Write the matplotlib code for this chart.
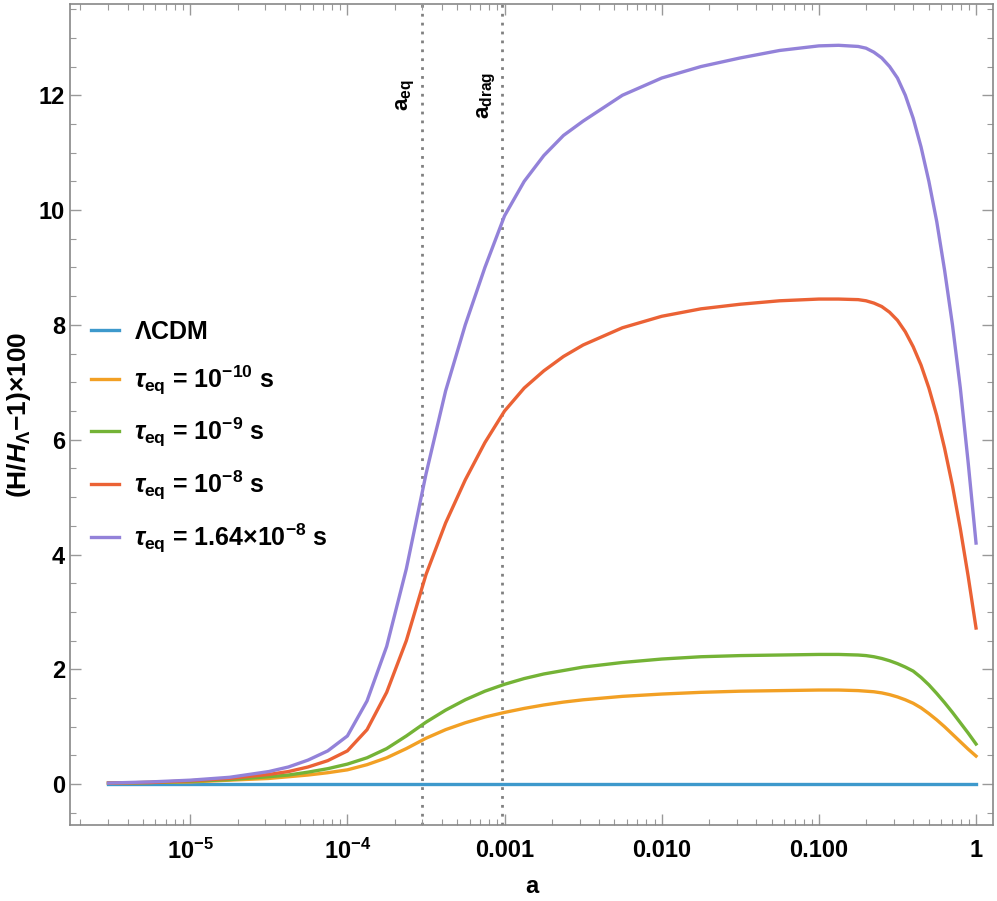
import numpy as np
import matplotlib
matplotlib.use("Agg")
import matplotlib.pyplot as plt
from matplotlib.ticker import LogLocator, MultipleLocator, NullFormatter

plt.rcParams['font.family'] = ['Liberation Sans', 'DejaVu Sans']
plt.rcParams['font.weight'] = 'bold'
plt.rcParams['mathtext.fontset'] = 'custom'
plt.rcParams['mathtext.rm'] = 'Liberation Sans:bold'
plt.rcParams['mathtext.bf'] = 'Liberation Sans:bold'
plt.rcParams['mathtext.it'] = 'Liberation Sans:italic:bold'

# log10(a) sample points
log_a = [-5.52, -5.25, -5.0, -4.75,
         -4.5, -4.375, -4.25, -4.125, -4.0, -3.875, -3.75, -3.625, -3.5,
         -3.375, -3.25, -3.125, -3.0, -2.875, -2.75, -2.625, -2.5,
         -2.25, -2.0, -1.75, -1.5, -1.25, -1.0, -0.875,
         -0.75, -0.7, -0.65, -0.6, -0.55, -0.5, -0.45, -0.4,
         -0.35, -0.3, -0.25, -0.2, -0.15, -0.1, -0.05, 0.0]

lcdm = [0.0] * len(log_a)
tau_1e10 = [0.02, 0.03, 0.04, 0.07,
            0.10, 0.13, 0.16, 0.20, 0.25, 0.34, 0.46, 0.62, 0.80,
            0.95, 1.07, 1.17, 1.25, 1.32, 1.38, 1.43, 1.47,
            1.53, 1.57, 1.60, 1.62, 1.63, 1.64, 1.64,
            1.63, 1.62, 1.61, 1.59, 1.56, 1.52, 1.47, 1.41,
            1.33, 1.23, 1.12, 1.00, 0.87, 0.74, 0.61, 0.49]
tau_1e9 = [0.02, 0.03, 0.05, 0.08,
           0.13, 0.16, 0.21, 0.27, 0.35, 0.46, 0.62, 0.84, 1.08,
           1.29, 1.47, 1.62, 1.74, 1.84, 1.92, 1.98, 2.04,
           2.12, 2.18, 2.22, 2.24, 2.25, 2.26, 2.26,
           2.25, 2.24, 2.22, 2.19, 2.15, 2.10, 2.04, 1.97,
           1.86, 1.73, 1.58, 1.42, 1.25, 1.07, 0.89, 0.70]
tau_1e8 = [0.02, 0.03, 0.06, 0.10,
           0.17, 0.22, 0.30, 0.41, 0.58, 0.95, 1.60, 2.50, 3.65,
           4.55, 5.30, 5.95, 6.50, 6.90, 7.20, 7.45, 7.65,
           7.95, 8.15, 8.28, 8.36, 8.42, 8.45, 8.45,
           8.44, 8.42, 8.38, 8.32, 8.22, 8.08, 7.88, 7.62,
           7.30, 6.90, 6.42, 5.85, 5.20, 4.45, 3.62, 2.72]
tau_164e8 = [0.02, 0.04, 0.07, 0.12,
             0.22, 0.30, 0.42, 0.58, 0.84, 1.45, 2.40, 3.75, 5.40,
             6.85, 8.00, 9.00, 9.90, 10.5, 10.95, 11.3, 11.55,
             12.0, 12.3, 12.5, 12.65, 12.78, 12.86, 12.87,
             12.85, 12.82, 12.75, 12.65, 12.5, 12.3, 12.0, 11.6,
             11.1, 10.5, 9.8, 8.95, 8.0, 6.9, 5.6, 4.2]

labels = [r'$\Lambda$CDM',
          r'$\tau_{\rm eq}$ = 10$^{-10}$ s',
          r'$\tau_{\rm eq}$ = 10$^{-9}$ s',
          r'$\tau_{\rm eq}$ = 10$^{-8}$ s',
          r'$\tau_{\rm eq}$ = 1.64×10$^{-8}$ s']
colors = ['#3D99CC', '#F2A024', '#74B336', '#EB6235', '#9382D9']

a_eq = 3.0e-4
a_drag = 9.7e-4

xtick_vals = [1e-5, 1e-4, 1e-3, 1e-2, 1e-1, 1]
xtick_labels = [r'10$^{-5}$', r'10$^{-4}$', '0.001', '0.010', '0.100', '1']


def main():
    fig = plt.figure(figsize=(9.97, 9.01), dpi=100)
    ax = fig.add_axes([0.0702, 0.0844, 0.9258, 0.9112])

    a = 10 ** np.array(log_a)
    series = [lcdm, tau_1e10, tau_1e9, tau_1e8, tau_164e8]
    for ys, lab, c in zip(series, labels, colors):
        ax.plot(a, ys, color=c, lw=2.4, label=lab, solid_joinstyle='round')

    # reference epochs
    for xv, txt in [(a_eq, r'a$_{\rm eq}$'), (a_drag, r'a$_{\rm drag}$')]:
        ax.axvline(xv, color='#808080', lw=2, ls=(0, (1, 2.2)), zorder=0)
        ax.text(xv * 0.93, 12.0, txt, rotation=90, ha='right', va='center',
                fontsize=16, fontweight='bold')

    ax.set_xscale('log')
    ax.set_xlim(10 ** -5.765, 10 ** 0.108)
    ax.set_ylim(-0.71, 13.59)
    ax.set_xticks(xtick_vals)
    ax.set_xticklabels(xtick_labels)
    ax.xaxis.set_minor_locator(LogLocator(base=10, subs=np.arange(2, 10), numticks=20))
    ax.xaxis.set_minor_formatter(NullFormatter())
    ax.yaxis.set_major_locator(MultipleLocator(2))
    ax.yaxis.set_minor_locator(MultipleLocator(0.5))

    ax.tick_params(which='both', direction='in', top=True, right=True,
                   color='#999999', labelsize=17)
    ax.tick_params(which='major', length=8, width=1)
    ax.tick_params(which='minor', length=4.5, width=0.8)
    ax.tick_params(axis='x', pad=10)
    for s in ax.spines.values():
        s.set_color('#888888')
        s.set_linewidth(1.2)

    ax.set_xlabel('a', fontsize=17, fontweight='bold', labelpad=8)
    ax.set_ylabel(r'(H/$\mathit{H}_{\Lambda}$−1)×100', fontsize=19,
                  fontweight='bold', labelpad=4)

    ax.legend(loc='center left', bbox_to_anchor=(0.012, 0.472), frameon=False,
              borderaxespad=0, fontsize=18, handlelength=1.1,
              labelspacing=0.78, handletextpad=0.6)

    fig.savefig('out.png', dpi=100)


if __name__ == '__main__':
    main()
